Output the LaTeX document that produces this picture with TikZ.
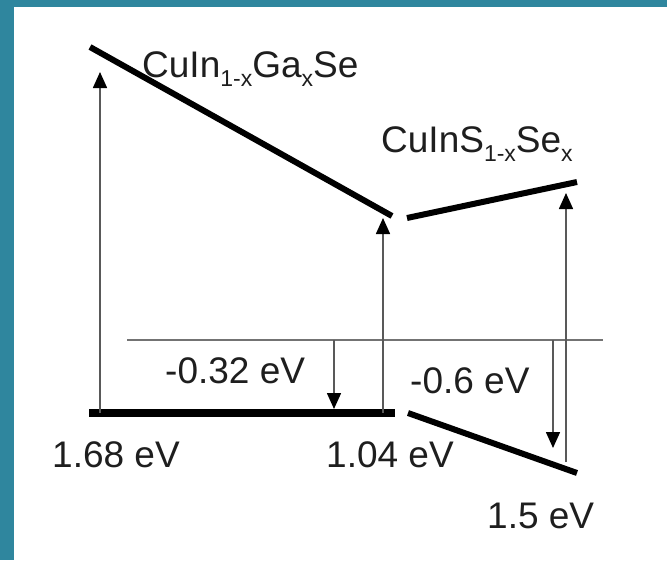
\documentclass[tikz,border=0pt]{standalone}
\usepackage{fontspec}
\setmainfont{Liberation Sans}
\usetikzlibrary{arrows.meta}
\definecolor{frameteal}{RGB}{47,134,158}
\definecolor{labelgray}{RGB}{30,30,30}
\newcommand\lowsub[1]{\raisebox{-9pt}{\fontsize{23}{23}\selectfont #1}}
\begin{document}
\begin{tikzpicture}[x=1pt,y=-1pt,
    band/.style={line width=6pt},
    gap/.style={draw=black!65, line width=1.6pt, -{Triangle[width=14pt,length=16pt,color=black]}},
    level/.style={draw=black!55, line width=1.6pt},
    lbl/.style={anchor=base west, inner sep=0pt, text=labelgray, font=\fontsize{37}{40}\selectfont}]
    % Frame
    \fill[frameteal] (0,0) rectangle (667,560);
    \fill[white] (14,7) rectangle (667,560);
    \useasboundingbox (0,0) rectangle (667,560);

    % Band edges
    \coordinate (cgsTop) at (90,47);
    \coordinate (cgsEnd) at (392,216);
    \coordinate (cssStart) at (407,218);
    \coordinate (cssTop) at (577,182);
    \coordinate (vbLeft) at (89,413);
    \coordinate (vbRight) at (395,413);
    \coordinate (vbsStart) at (408,413);
    \coordinate (vbsEnd) at (577,473);
    \draw[band] (cgsTop) -- (cgsEnd);
    \draw[band] (cssStart) -- (cssTop);
    \draw[line width=8pt] (vbLeft) -- (vbRight);
    \draw[band] (vbsStart) -- (vbsEnd);

    % Reference level
    \coordinate (refL) at (127,340);
    \coordinate (refR) at (603,340);
    \draw[level] (refL) -- (refR);

    % Gap arrows (up)
    \coordinate (gapA0) at (100,413);
    \coordinate (gapA1) at (100,72);
    \coordinate (gapB0) at (383,413);
    \coordinate (gapB1) at (383,218);
    \coordinate (gapC0) at (566,462);
    \coordinate (gapC1) at (566,193);
    \draw[gap] (gapA0) -- (gapA1);
    \draw[gap] (gapB0) -- (gapB1);
    \draw[gap] (gapC0) -- (gapC1);

    % Offset arrows (down)
    \coordinate (offA0) at (334,340);
    \coordinate (offA1) at (334,409);
    \coordinate (offB0) at (553,340);
    \coordinate (offB1) at (553,448);
    \draw[gap] (offA0) -- (offA1);
    \draw[gap] (offB0) -- (offB1);

    % Labels
    \node[lbl] (cgsLabel) at (142,77) {CuIn\lowsub{1-x}Ga\lowsub{x}Se};
    \node[lbl] (cssLabel) at (381,152) {CuInS\lowsub{1-x}Se\lowsub{x}};
    \node[lbl] (offALabel) at (165,383) {-0.32 eV};
    \node[lbl] (offBLabel) at (410,393) {-0.6 eV};
    \node[lbl] (gapALabel) at (52,467) {1.68 eV};
    \node[lbl] (gapBLabel) at (326,467) {1.04 eV};
    \node[lbl] (gapCLabel) at (487,528) {1.5 eV};
\end{tikzpicture}
\end{document}
